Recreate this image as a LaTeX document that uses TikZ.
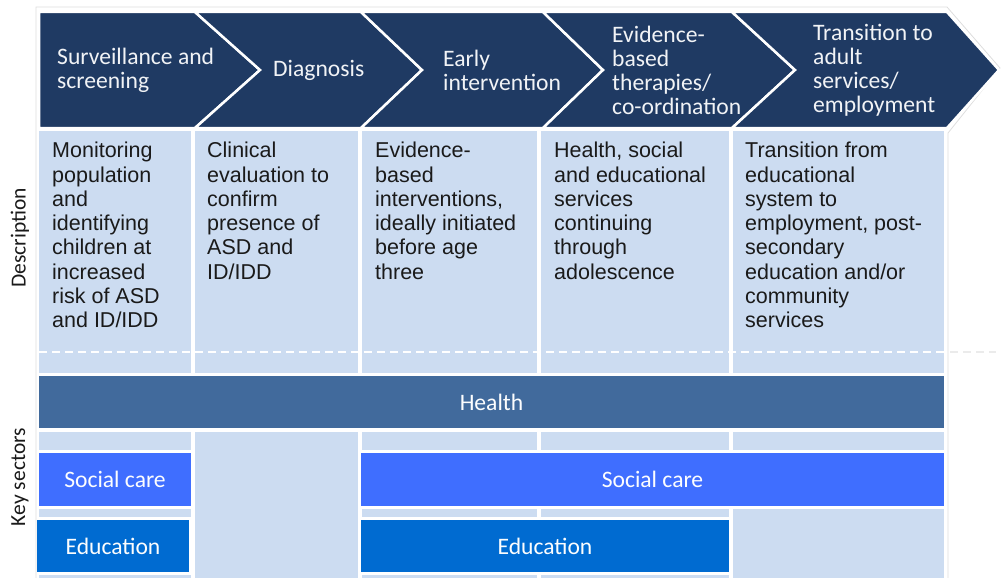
\documentclass[tikz,border=0pt]{standalone}
\usepackage{fontspec}
\setmainfont{Liberation Sans}
\newfontfamily\calfont{Carlito}
\definecolor{navy}{HTML}{1F3A63}
\definecolor{lightb}{HTML}{CCDCF1}
\definecolor{healthc}{HTML}{416A9C}
\definecolor{socialc}{HTML}{3F6EFF}
\definecolor{educc}{HTML}{006BD1}
\definecolor{txtc}{HTML}{1A1A1A}
\definecolor{frame}{HTML}{DDDDDD}
\newcommand\blk[7]{\node[#6, anchor=north west, minimum width={(#4-#2)*1pt}, minimum height={(#5-#3)*1pt}] (#1) at (#2,#3) {#7};}
\begin{document}
\begin{tikzpicture}[x=1pt,y=-1pt,
  chev/.style={fill=navy, draw=white, line width=2.5pt, line join=miter},
  cell/.style={fill=lightb, inner sep=0pt, outer sep=0pt},
  bar/.style={inner sep=0pt, outer sep=0pt, text=white!94!lightb, font=\calfont\fontsize{23.6}{24}\selectfont},
  chevtext/.style={text=white!94!navy, font=\calfont\fontsize{23.6}{24}\selectfont, align=left, anchor=west, inner sep=0pt},
  desctext/.style={text=txtc, font=\fontsize{21.5}{24.3}\selectfont, align=left, anchor=north west, inner sep=0pt},
  sidelabel/.style={text=txtc, font=\calfont\fontsize{21.5}{24}\selectfont, rotate=90, inner sep=0pt}]
\useasboundingbox (0,0) rectangle (1001,578);
% outer frame
\draw[frame, line width=0.8pt] (36,580) -- (36,7) -- (947,7) -- (1000,68) -- (948,133) -- (948,580);
% chevrons
\filldraw[chev] (39,12) -- (195,12) -- (260,70) -- (195,128) -- (39,128) -- cycle;
\filldraw[chev] (195,12) -- (361,12) -- (422,70) -- (361,128) -- (195,128) -- (260,70) -- cycle;
\filldraw[chev] (361,12) -- (543,12) -- (603,70) -- (543,128) -- (361,128) -- (422,70) -- cycle;
\filldraw[chev] (543,12) -- (732,12) -- (795,70) -- (732,128) -- (543,128) -- (603,70) -- cycle;
\filldraw[chev] (732,12) -- (947,12) -- (999,70) -- (947,128) -- (732,128) -- (795,70) -- cycle;
\node[chevtext] (c1) at (57,70) {Surveillance and\\screening};
\node[chevtext] (c2) at (273,70) {Diagnosis};
\node[chevtext] (c3) at (443,70) {Early\\intervention};
\node[chevtext] (c4) at (612,70) {Evidence-\\based\\therapies/\\co-ordination};
\node[chevtext] (c5) at (813,70) {Transition to\\adult\\services/\\employment};
% description cells
\blk{d1}{39}{131}{191}{373}{cell}{}
\blk{d2}{195}{131}{358}{373}{cell}{}
\blk{d3}{362}{131}{537}{373}{cell}{}
\blk{d4}{541}{131}{729}{373}{cell}{}
\blk{d5}{733}{131}{944}{373}{cell}{}
\draw[white, line width=1.5pt, dash pattern=on 8pt off 5pt] (39,352) -- (944,352);
\draw[frame!60, line width=1.2pt, dash pattern=on 8pt off 5pt] (950,352) -- (996,352);
\node[desctext] (t1) at (52,142) {Monitoring\\population\\and\\identifying\\children at\\increased\\risk of ASD\\and ID/IDD};
\node[desctext] (t2) at (207,142) {Clinical\\evaluation to\\confirm\\presence of\\ASD and\\ID/IDD};
\node[desctext] (t3) at (375,142) {Evidence-\\based\\interventions,\\ideally initiated\\before age\\three};
\node[desctext] (t4) at (554,142) {Health, social\\and educational\\services\\continuing\\through\\adolescence};
\node[desctext] (t5) at (745,142) {Transition from\\educational\\system to\\employment, post-\\secondary\\education and/or\\community\\services};
% health
\blk{health}{39}{376}{944}{428}{bar, fill=healthc}{Health}
% key sector background cells
\blk{k1a}{39}{432}{191}{450}{cell}{}
\blk{k1b}{39}{509}{191}{517}{cell}{}
\blk{k1c}{39}{575}{191}{580}{cell}{}
\blk{k2}{195}{432}{358}{580}{cell}{}
\blk{k3a}{362}{432}{537}{450}{cell}{}
\blk{k4a}{541}{432}{729}{450}{cell}{}
\blk{k5a}{733}{432}{944}{450}{cell}{}
\blk{k3b}{362}{509}{537}{517}{cell}{}
\blk{k4b}{541}{509}{729}{517}{cell}{}
\blk{k5b}{733}{509}{944}{580}{cell}{}
\blk{k3c}{362}{575}{537}{580}{cell}{}
\blk{k4c}{541}{575}{729}{580}{cell}{}
% sector bars
\blk{soc1}{39}{453}{191}{506}{bar, fill=socialc}{Social care}
\blk{edu1}{37}{520}{189}{572}{bar, fill=educc}{Education}
\blk{soc2}{361}{453}{944}{506}{bar, fill=socialc}{Social care}
\blk{edu2}{361}{520}{729}{572}{bar, fill=educc}{Education}
% side labels
\node[sidelabel] (ldesc) at (20,238) {Description};
\node[sidelabel] (lkey) at (20,477) {Key sectors};
\end{tikzpicture}
\end{document}
